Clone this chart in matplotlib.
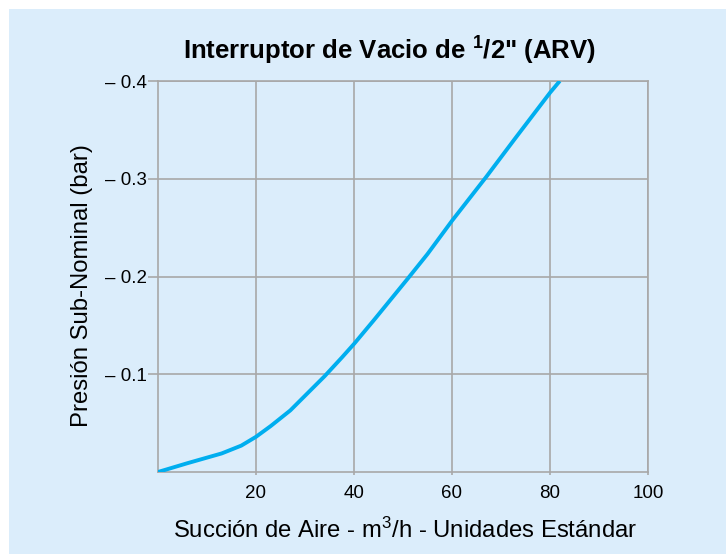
import matplotlib
matplotlib.use("Agg")
import matplotlib.pyplot as plt
from matplotlib.patches import Rectangle

plt.rcParams['font.family'] = ['Liberation Sans', 'DejaVu Sans']
plt.rcParams['mathtext.fontset'] = 'custom'
plt.rcParams['mathtext.rm'] = 'Liberation Sans'
plt.rcParams['mathtext.it'] = 'Liberation Sans:italic'
plt.rcParams['mathtext.bf'] = 'Liberation Sans:bold'

# datos
caudal = [0, 6, 13, 17, 20, 23, 27, 30, 34, 37.5, 40, 44, 51, 55, 60, 67, 73, 80, 82]
presion = [0, 0.009, 0.019, 0.027, 0.036, 0.047, 0.063, 0.078, 0.098, 0.117, 0.131,
           0.155, 0.198, 0.223, 0.257, 0.302, 0.342, 0.388, 0.400]
x_ticks = [20, 40, 60, 80, 100]
y_ticks = [0.1, 0.2, 0.3, 0.4]
y_labels = ['\u2013 0.1', '\u2013 0.2', '\u2013 0.3', '\u2013 0.4']

fondo = '#dbedfb'
gris = '#a8a8a8'
azul = '#00aeef'

fig = plt.figure(figsize=(7.26, 5.56), dpi=100)
fig.patch.set_facecolor('white')
fig.patches.append(Rectangle((9/726, 2/556), 1 - 9/726, 1 - 11/556,
                             transform=fig.transFigure, facecolor=fondo,
                             edgecolor='none', zorder=-5))

ax = fig.add_axes([158/726, 1 - 472/556, 490/726, 391/556])
ax.set_facecolor(fondo)
ax.plot(caudal, presion, color=azul, lw=2.8, solid_capstyle='butt',
        solid_joinstyle='round', zorder=3)

ax.set_xlim(0, 100)
ax.set_ylim(0, 0.4)
ax.set_xticks(x_ticks)
ax.set_yticks(y_ticks)
ax.set_yticklabels(y_labels)
ax.grid(True, color=gris, lw=1.2)
for s in ax.spines.values():
    s.set_color(gris)
    s.set_linewidth(1.2)
ax.tick_params(axis='x', length=2, color=gris, width=1.2, labelsize=13.5, pad=7)
ax.tick_params(axis='y', length=7, color=gris, width=1.2, labelsize=13.5, pad=1)

fig.text(390/726, 1 - 51/556, 'Interruptor de Vacio de $^{\\mathbf{1}}$/2" (ARV)',
         ha='center', va='center', fontsize=18.5, fontweight='bold')
fig.text(405/726, 1 - 530/556, 'Succi\u00f3n de Aire - m$^3$/h - Unidades Est\u00e1ndar',
         ha='center', va='center', fontsize=17.2)
fig.text(82/726, 1 - 286/556, 'Presi\u00f3n Sub-Nominal (bar)',
         ha='center', va='center', rotation=90, fontsize=17.2)

fig.savefig('out.png', dpi=100, facecolor='white')
